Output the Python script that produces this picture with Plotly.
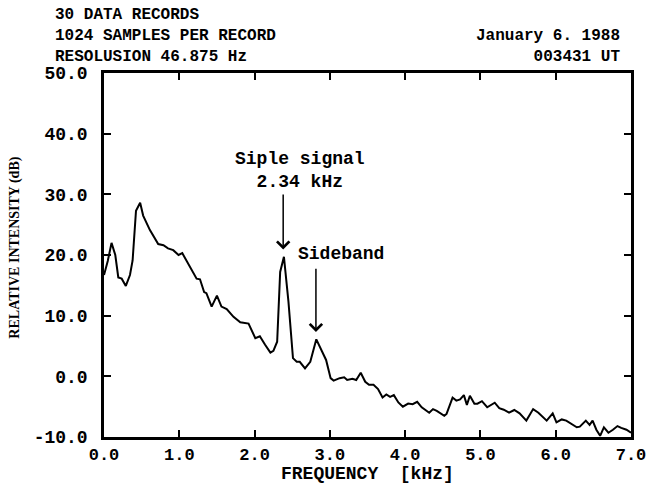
import plotly.graph_objects as go

# Spectrum
freq_khz = [0.00, 0.05, 0.10, 0.15, 0.19, 0.235, 0.29, 0.345, 0.38, 0.425, 0.48, 0.52,
            0.61, 0.72, 0.79, 0.85, 0.92, 0.99, 1.04, 1.10, 1.16, 1.23, 1.275, 1.33,
            1.36, 1.43, 1.50, 1.56, 1.63, 1.72, 1.81, 1.92, 2.01, 2.07, 2.14, 2.21,
            2.25, 2.30, 2.34, 2.39, 2.45, 2.51, 2.56, 2.60, 2.67, 2.74, 2.82, 2.89,
            2.95, 3.01, 3.05, 3.13, 3.19, 3.23, 3.30, 3.35, 3.41, 3.47, 3.52, 3.58,
            3.64, 3.70, 3.75, 3.80, 3.85, 3.91, 3.97, 4.04, 4.10, 4.16, 4.22, 4.32,
            4.37, 4.42, 4.52, 4.55, 4.63, 4.68, 4.73, 4.78, 4.82, 4.86, 4.92, 4.96,
            5.02, 5.09, 5.19, 5.25, 5.31, 5.38, 5.45, 5.52, 5.61, 5.70, 5.77, 5.88,
            5.96, 6.01, 6.08, 6.14, 6.28, 6.32, 6.40, 6.45, 6.49, 6.54, 6.59, 6.64,
            6.70, 6.76, 6.82, 6.87, 6.94, 7.00]
intensity_db = [16.7, 19.0, 22.0, 20.0, 16.3, 16.1, 14.9, 16.7, 19.1, 27.3, 28.6, 26.5,
                24.1, 21.8, 21.6, 21.1, 20.8, 20.0, 20.3, 18.9, 17.5, 16.1, 16.0, 13.9,
                13.7, 11.5, 13.3, 11.5, 11.1, 9.8, 8.9, 8.7, 6.3, 6.6, 5.2, 3.9,
                4.2, 5.7, 17.2, 19.7, 12.3, 3.0, 2.4, 2.4, 1.3, 2.4, 6.1, 4.3,
                2.7, -0.3, -0.7, -0.3, -0.15, -0.6, -0.4, -0.6, 0.6, -0.9, -1.4, -1.4,
                -2.1, -3.5, -3.0, -3.4, -3.1, -4.3, -5.0, -4.5, -4.6, -4.2, -5.1, -6.0,
                -5.4, -5.7, -6.5, -6.2, -3.5, -4.0, -3.8, -3.1, -4.7, -3.2, -4.5, -4.5,
                -4.1, -5.1, -4.35, -5.25, -5.5, -6.0, -5.55, -6.1, -7.3, -5.4, -6.0, -7.3,
                -6.1, -7.6, -7.1, -7.3, -8.4, -8.3, -7.3, -8.0, -7.3, -8.8, -9.8, -8.4,
                -9.3, -8.8, -8.2, -8.5, -8.8, -9.3]

x_ticks = [0, 1, 2, 3, 4, 5, 6, 7]
x_tick_labels = ["0.0", "1.0", "2.0", "3.0", "4.0", "5.0", "6.0", "7.0"]
y_ticks = [-10, 0, 10, 20, 30, 40, 50]
y_tick_labels = ["-10.0", "0.0", "10.0", "20.0", "30.0", "40.0", "50.0"]

header_left = ["30 DATA RECORDS", "1024 SAMPLES PER RECORD", "RESOLUSION 46.875 Hz"]
header_right = ["January 6. 1988", "003431 UT"]

MONO = "Liberation Mono, Courier New, monospace"
SERIF = "Liberation Serif, Times New Roman, serif"

fig = go.Figure()
fig.add_trace(go.Scatter(x=freq_khz, y=intensity_db, mode="lines",
                         line=dict(color="black", width=2), showlegend=False))

axis_common = dict(showline=True, linecolor="black", linewidth=2.5, mirror="allticks",
                   ticks="inside", ticklen=7, tickwidth=1.5, tickcolor="black",
                   showgrid=False, zeroline=False, automargin=False,
                   ticklabeloverflow="allow")

fig.update_xaxes(range=[0, 7], tickvals=x_ticks, ticktext=x_tick_labels,
                 tickfont=dict(family=MONO, size=17, color="black", weight="bold"),
                 **axis_common)
fig.update_yaxes(range=[-10, 50], tickvals=y_ticks, ticktext=y_tick_labels,
                 tickfont=dict(family=MONO, size=18, color="black", weight="bold"),
                 ticklabelstandoff=10,
                 **axis_common)

ann = []
ann.append(dict(text="<br>".join(header_left), xref="paper", yref="paper",
                x=-0.097, y=1.19, xanchor="left", yanchor="top", align="left",
                showarrow=False,
                font=dict(family=MONO, size=16, color="black", weight="bold")))
ann.append(dict(text="<br>".join(header_right), xref="paper", yref="paper",
                x=0.983, y=1.133, xanchor="right", yanchor="top", align="right",
                showarrow=False,
                font=dict(family=MONO, size=16, color="black", weight="bold")))

# x axis title
ann.append(dict(text="FREQUENCY  [kHz]", xref="paper", yref="paper",
                x=0.5, y=-0.101, xanchor="center", yanchor="middle", showarrow=False,
                font=dict(family=MONO, size=18, color="black", weight="bold")))

# y axis title
ann.append(dict(text="RELATIVE INTENSITY (dB)", xref="paper", yref="paper",
                x=-0.169, y=0.52, textangle=-90, showarrow=False,
                xanchor="center", yanchor="middle",
                font=dict(family=SERIF, size=14, color="black", weight="bold")))

# Siple signal label and arrow
ann.append(dict(text="Siple signal<br>2.34 kHz", xref="x", yref="y", x=2.60, y=34.0,
                showarrow=False, align="center",
                font=dict(family=MONO, size=18, color="black", weight="bold")))
ann.append(dict(text="", xref="x", yref="y", x=2.38, y=20.9,
                axref="x", ayref="y", ax=2.38, ay=30.2,
                showarrow=True, arrowhead=4, arrowsize=1.6, arrowwidth=1.5,
                arrowcolor="black", standoff=0, startstandoff=0))
# Sideband label and arrow
ann.append(dict(text="Sideband", xref="x", yref="y", x=3.15, y=20.1,
                showarrow=False,
                font=dict(family=MONO, size=18, color="black", weight="bold")))
ann.append(dict(text="", xref="x", yref="y", x=2.815, y=7.3,
                axref="x", ayref="y", ax=2.815, ay=18.0,
                showarrow=True, arrowhead=4, arrowsize=1.6, arrowwidth=1.5,
                arrowcolor="black", standoff=0, startstandoff=0))

fig.update_layout(width=646, height=486, margin=dict(l=104, r=15, t=73, b=49),
                  plot_bgcolor="white", paper_bgcolor="white",
                  annotations=ann, showlegend=False)

fig.write_html("out.html", config={"displayModeBar": False},
               post_script="document.body.style.margin='0';document.body.style.overflow='hidden';")
